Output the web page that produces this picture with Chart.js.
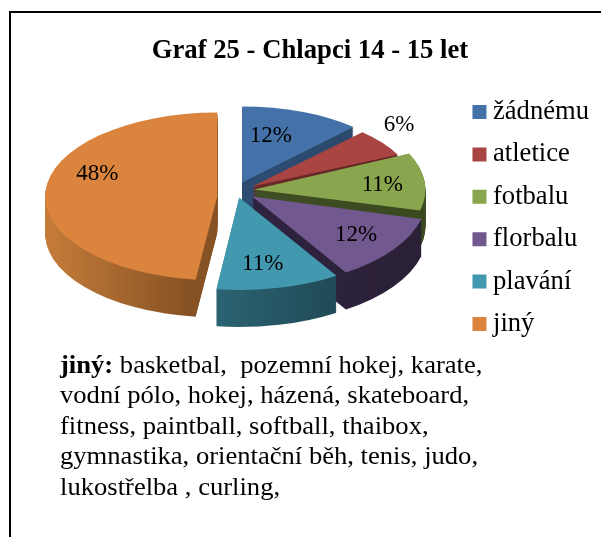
<!DOCTYPE html>
<html lang="cs">
<head>
<meta charset="utf-8">
<script src="https://cdn.jsdelivr.net/npm/chart.js@4"></script>
<style>
html,body{margin:0;padding:0;background:#fff;overflow:hidden}
#page{position:relative;width:601px;height:537px;overflow:hidden}
#frame{position:absolute;left:9px;top:11px;width:600px;height:540px;border-left:2px solid #000;border-top:2px solid #000}
#wrap{position:absolute;left:21px;top:0;width:580px;height:436px}
#note{position:absolute;left:60px;top:350px;font:25.5px/30.4px "Liberation Serif",serif;color:#000;white-space:nowrap;transform:scaleX(1.043);transform-origin:left top}
</style>
</head>
<body>
<div id="page">
<div id="frame"></div>
<div id="wrap"><canvas id="c" width="580" height="436"></canvas></div>
<div id="note"><b>jiný:</b> basketbal,&nbsp; pozemní hokej, karate,<br>vodní pólo, hokej, házená, skateboard,<br>fitness, paintball, softball, thaibox,<br>gymnastika, orientační běh, tenis, judo,<br>lukostřelba , curling,</div>
</div>
<script>
const titleText = 'Graf 25 - Chlapci 14 - 15 let';
const categories = ['žádnému', 'atletice', 'fotbalu', 'florbalu', 'plavání', 'jiný'];
const shares = [12, 6, 11, 12, 11, 48];
const topColors = ['#4472A8', '#A84442', '#89A54E', '#71588F', '#4198AF', '#DB843D'];
const sideStops = [
  ['#2E4C72', '#2A466A'],
  ['#6A2A28', '#5E2422'],
  ['#3F4E24', '#3A4820'],
  ['#2F2440', '#2A2036'],
  ['#2B6272', '#183842'],
  ['#C67C3A', '#865224']
];
const sideRange = [[0.5, 1], [0.5, 1], [0.5, 1], [0.5, 1], [0.45, 1], [0, 0.42]];
const drawOrder = [0, 1, 2, 3, 4, 5];
const pieRadius = 173;
const depth = 37;
const stretchX = [0.94, 0.93, 0.99, 1.01, 1.05, 0.995];
const stretchY = [0.44, 0.43, 0.49, 0.52, 0.535, 0.485];
// pie sits in the upper part of the plot, each slice exploded from the common centre
const pieLiftX = 1;
const pieLiftY = -72;
const shiftX = [-1, 9, 11, 9, -4, -26];
const shiftY = [-7, -3, 0, 7, 8, 7];
const labelRadius = [0.64, 1.23, 0.75, 0.73, 0.73, 0.745];
const labelAcross = [0.37, 0.22, 0.53, 0.49, 0.56, 0.6];

const pie3d = {
  id: 'pie3d',
  beforeDatasetDraw(chart, args) {
    const ctx = chart.ctx;
    const arcs = chart.getDatasetMeta(args.index).data;
    drawOrder.forEach(i => {
      const el = arcs[i];
      const base = el.options;
      const place = d => {
        ctx.setTransform(1, 0, 0, 1, 0, 0);
        ctx.translate(el.x + pieLiftX + shiftX[i], el.y + pieLiftY + shiftY[i] + d);
        ctx.scale(stretchX[i], stretchY[i]);
        ctx.translate(-el.x, -el.y);
      };
      const x0 = el.x - pieRadius, span = 2 * pieRadius;
      const side = ctx.createLinearGradient(x0 + span * sideRange[i][0], 0, x0 + span * sideRange[i][1], 0);
      side.addColorStop(0, sideStops[i][0]);
      side.addColorStop(1, sideStops[i][1]);
      ctx.save();
      el.options = Object.assign({}, base, {backgroundColor: side, borderWidth: 0});
      for (let d = depth; d >= 1; d--) { place(d); el.draw(ctx); }
      el.options = base;
      place(0);
      el.draw(ctx);
      ctx.restore();
    });
    return false;
  },
  afterDatasetsDraw(chart) {
    const ctx = chart.ctx;
    const arcs = chart.getDatasetMeta(0).data;
    ctx.save();
    ctx.font = '23px "Liberation Serif", serif';
    ctx.fillStyle = '#000';
    ctx.textAlign = 'center';
    ctx.textBaseline = 'middle';
    arcs.forEach((el, i) => {
      const a = el.startAngle + (el.endAngle - el.startAngle) * labelAcross[i];
      const r = el.outerRadius * labelRadius[i];
      const x = el.x + pieLiftX + shiftX[i] + Math.cos(a) * r * stretchX[i];
      const y = el.y + pieLiftY + shiftY[i] + Math.sin(a) * r * stretchY[i];
      ctx.fillText(shares[i] + '%', x, y);
    });
    ctx.restore();
  }
};

new Chart(document.getElementById('c'), {
  type: 'pie',
  plugins: [pie3d],
  data: {
    labels: categories,
    datasets: [{data: shares, backgroundColor: topColors, borderWidth: 0, radius: pieRadius}]
  },
  options: {
    responsive: false,
    animation: false,
    layout: {padding: {right: 2}},
    plugins: {
      tooltip: {enabled: false},
      title: {
        display: true,
        text: titleText,
        color: '#000',
        font: {family: '"Liberation Serif", serif', size: 26.7, weight: 'bold'},
        padding: {top: 35, bottom: 20}
      },
      legend: {
        position: 'right',
        labels: {
          color: '#000',
          font: {family: '"Liberation Serif", serif', size: 26.6},
          boxWidth: 0.5,
          boxHeight: 0.5,
          padding: 15.8,
          generateLabels(chart) {
            return Chart.overrides.pie.plugins.legend.labels.generateLabels(chart).map(item =>
              Object.assign(item, {strokeStyle: item.fillStyle, lineWidth: 13.5, lineJoin: 'miter'}));
          }
        }
      }
    }
  }
});
</script>
</body>
</html>
